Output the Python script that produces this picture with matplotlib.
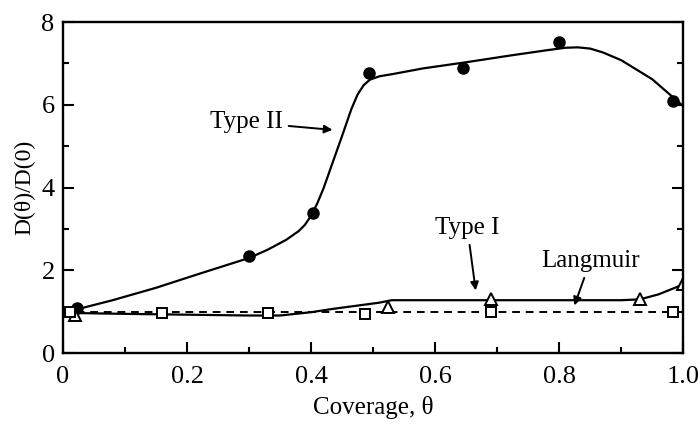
import numpy as np
import matplotlib
matplotlib.use("Agg")
import matplotlib.pyplot as plt
from matplotlib.ticker import MultipleLocator

plt.rcParams['font.family'] = ['Liberation Serif', 'DejaVu Serif']

# measured points
type2_x = [0.022, 0.30, 0.403, 0.494, 0.645, 0.80, 0.984]
type2_y = [1.08, 2.34, 3.38, 6.76, 6.88, 7.52, 6.10]

type1_x = [0.02, 0.524, 0.69, 0.93, 1.0]
type1_y = [0.92, 1.12, 1.30, 1.30, 1.68]

lang_x = [0.012, 0.16, 0.33, 0.487, 0.69, 0.984]
lang_y = [0.99, 0.97, 0.97, 0.95, 1.00, 1.00]

# hand-drawn guide curves
type2_cx = [0.02, 0.08, 0.15, 0.22, 0.30, 0.33, 0.36, 0.38, 0.39, 0.40, 0.41,
            0.42, 0.45, 0.465, 0.475, 0.485, 0.495, 0.51, 0.53, 0.58, 0.65,
            0.72, 0.78, 0.81, 0.83, 0.85, 0.87, 0.90, 0.95, 1.0]
type2_cy = [1.05, 1.28, 1.58, 1.92, 2.30, 2.50, 2.74, 2.95, 3.10, 3.32, 3.62,
            3.98, 5.25, 5.90, 6.25, 6.48, 6.61, 6.69, 6.74, 6.88, 7.03,
            7.19, 7.32, 7.38, 7.39, 7.36, 7.27, 7.08, 6.62, 5.97]

type1_cx = [0.02, 0.10, 0.20, 0.30, 0.35, 0.40, 0.435, 0.47, 0.51, 0.53, 0.70,
            0.90, 0.93, 0.96, 0.99, 1.0]
type1_cy = [0.97, 0.95, 0.93, 0.91, 0.91, 0.99, 1.07, 1.14, 1.22, 1.28, 1.28,
            1.28, 1.30, 1.42, 1.60, 1.68]

lang_cx = [0.0, 1.0]
lang_cy = [1.0, 1.0]

fig = plt.figure(figsize=(7, 4.25), dpi=100)
ax = fig.add_axes([0.09, 0.169, 0.886, 0.779])

ax.plot(type2_cx, type2_cy, color='black', lw=1.6)
ax.plot(type1_cx, type1_cy, color='black', lw=1.6)
ax.plot(lang_cx, lang_cy, color='black', lw=1.4, ls=(0, (4, 3)))

ax.plot(type2_x, type2_y, 'o', color='black', ms=8)
ax.plot(type1_x, type1_y, '^', mfc='white', mec='black', mew=1.4, ms=8)
ax.plot(lang_x, lang_y, 's', mfc='white', mec='black', mew=1.4, ms=7.5)

arrow = dict(arrowstyle='-|>', color='black', lw=1.4, mutation_scale=12)
ax.annotate('Type II', xy=(0.439, 5.39), xytext=(0.355, 5.58),
            ha='right', va='center', fontsize=18, arrowprops=arrow)
ax.annotate('Type I', xy=(0.666, 1.45), xytext=(0.652, 2.75),
            ha='center', va='bottom', fontsize=18, arrowprops=arrow)
ax.annotate('Langmuir', xy=(0.823, 1.09), xytext=(0.85, 1.95),
            ha='center', va='bottom', fontsize=18, arrowprops=arrow)

ax.set_xlim(0, 1.0)
ax.set_ylim(0, 8)
ax.set_xticks([0, 0.2, 0.4, 0.6, 0.8, 1.0])
ax.set_xticklabels(['0', '0.2', '0.4', '0.6', '0.8', '1.0'])
ax.set_yticks([0, 2, 4, 6, 8])
ax.xaxis.set_minor_locator(MultipleLocator(0.1))
ax.yaxis.set_minor_locator(MultipleLocator(1))
ax.tick_params(which='both', direction='in', right=True, top=False,
               labelsize=19, width=1.5)
ax.tick_params(axis='x', pad=9)
ax.tick_params(axis='y', pad=6)
ax.tick_params(which='major', length=8)
ax.tick_params(which='minor', length=4)
for s in ax.spines.values():
    s.set_linewidth(1.7)

ax.set_xlabel('Coverage, θ', fontsize=18, labelpad=6)
ax.set_ylabel('D(θ)/D(0)', fontsize=17, labelpad=4)

fig.savefig('out.png', dpi=100)
